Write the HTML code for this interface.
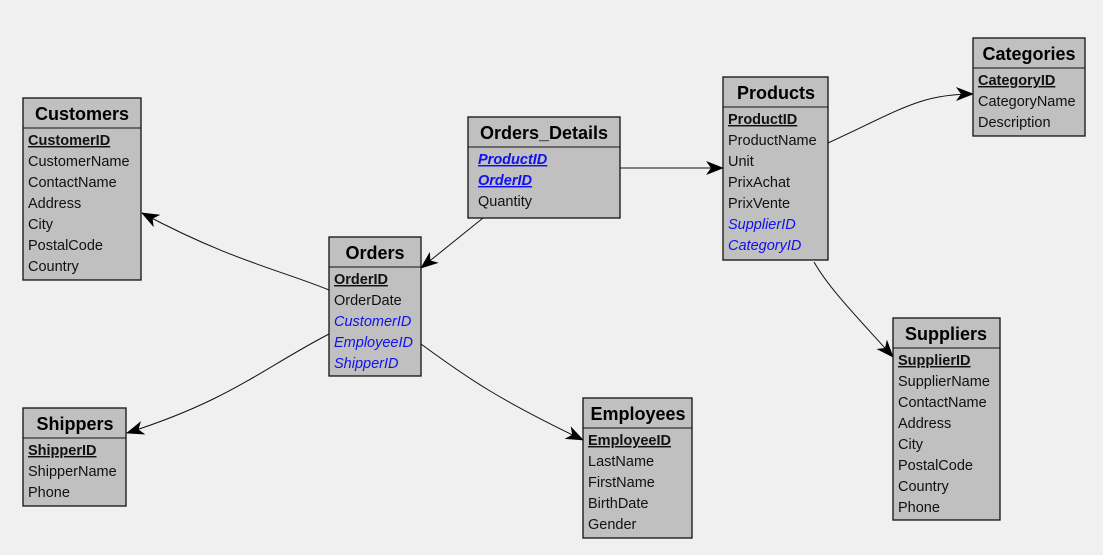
<!DOCTYPE html>
<html><head><meta charset="utf-8"><style>
html,body{margin:0;padding:0;background:#f0f0f0;}
svg{display:block;}
text{font-family:"Liberation Sans",sans-serif;font-size:14.5px;fill:#111;}
text.t{font-size:18px;font-weight:700;text-anchor:middle;fill:#000;}
.pk{font-weight:bold;text-decoration:underline;}
.fk{fill:#1010f0;font-style:italic;}
.pf{fill:#1010f0;font-style:italic;font-weight:bold;text-decoration:underline;}
rect{fill:#c0c0c0;stroke:#111;stroke-width:1.3;}
.l{stroke:#111;stroke-width:1;}
.c{fill:none;stroke:#111;stroke-width:1;marker-end:url(#a);}
</style></head><body>
<svg width="1103" height="555" viewBox="0 0 1103 555">
<defs><marker id="a" viewBox="0 0 18 14" refX="17" refY="7" markerWidth="18" markerHeight="14" markerUnits="userSpaceOnUse" orient="auto"><path d="M0,0 L18,7 L0,14 L5,7 Z" fill="#000"/></marker></defs>

<path class="c" d="M329,290 C280,270 230,260 142,213"/>
<path class="c" d="M329,334 C260,370 230,400 127,433"/>
<path class="c" d="M421,344 C470,380 500,400 583,440"/>
<path class="c" d="M483,218 L421,268"/>
<path class="c" d="M620,168 L723,168"/>
<path class="c" d="M828,143 C900,110 920,94 973,94"/>
<path class="c" d="M814,262 C830,290 860,320 893,357"/>

<rect x="23" y="98" width="118" height="182"/><line class="l" x1="23" y1="128" x2="141" y2="128"/>
<text class="t" x="82" y="120" font-weight="700">Customers</text>
<text class="pk" x="28" y="145">CustomerID</text>
<text x="28" y="166">CustomerName</text><text x="28" y="187">ContactName</text><text x="28" y="208">Address</text><text x="28" y="229">City</text><text x="28" y="250">PostalCode</text><text x="28" y="271">Country</text>

<rect x="329" y="237" width="92" height="139"/><line class="l" x1="329" y1="267" x2="421" y2="267"/>
<text class="t" x="375" y="259" font-weight="700">Orders</text>
<text class="pk" x="334" y="284">OrderID</text><text x="334" y="305">OrderDate</text>
<text class="fk" x="334" y="326">CustomerID</text><text class="fk" x="334" y="347">EmployeeID</text><text class="fk" x="334" y="368">ShipperID</text>

<rect x="468" y="117" width="152" height="101"/><line class="l" x1="468" y1="147" x2="620" y2="147"/>
<text class="t" x="544" y="139" font-weight="700">Orders_Details</text>
<text class="pf" x="478" y="164">ProductID</text><text class="pf" x="478" y="185">OrderID</text><text x="478" y="206">Quantity</text>

<rect x="723" y="77" width="105" height="183"/><line class="l" x1="723" y1="107" x2="828" y2="107"/>
<text class="t" x="776" y="99" font-weight="700">Products</text>
<text class="pk" x="728" y="124">ProductID</text><text x="728" y="145">ProductName</text><text x="728" y="166">Unit</text><text x="728" y="187">PrixAchat</text><text x="728" y="208">PrixVente</text>
<text class="fk" x="728" y="229">SupplierID</text><text class="fk" x="728" y="250">CategoryID</text>

<rect x="973" y="38" width="112" height="98"/><line class="l" x1="973" y1="68" x2="1085" y2="68"/>
<text class="t" x="1029" y="60" font-weight="700">Categories</text>
<text class="pk" x="978" y="85">CategoryID</text><text x="978" y="106">CategoryName</text><text x="978" y="127">Description</text>

<rect x="893" y="318" width="107" height="202"/><line class="l" x1="893" y1="348" x2="1000" y2="348"/>
<text class="t" x="946" y="340" font-weight="700">Suppliers</text>
<text class="pk" x="898" y="365">SupplierID</text><text x="898" y="386">SupplierName</text><text x="898" y="407">ContactName</text><text x="898" y="428">Address</text><text x="898" y="449">City</text><text x="898" y="470">PostalCode</text><text x="898" y="491">Country</text><text x="898" y="512">Phone</text>

<rect x="23" y="408" width="103" height="98"/><line class="l" x1="23" y1="438" x2="126" y2="438"/>
<text class="t" x="75" y="430" font-weight="700">Shippers</text>
<text class="pk" x="28" y="455">ShipperID</text><text x="28" y="476">ShipperName</text><text x="28" y="497">Phone</text>

<rect x="583" y="398" width="109" height="140"/><line class="l" x1="583" y1="428" x2="692" y2="428"/>
<text class="t" x="638" y="420" font-weight="700">Employees</text>
<text class="pk" x="588" y="445">EmployeeID</text><text x="588" y="466">LastName</text><text x="588" y="487">FirstName</text><text x="588" y="508">BirthDate</text><text x="588" y="529">Gender</text>
</svg>
</body></html>
